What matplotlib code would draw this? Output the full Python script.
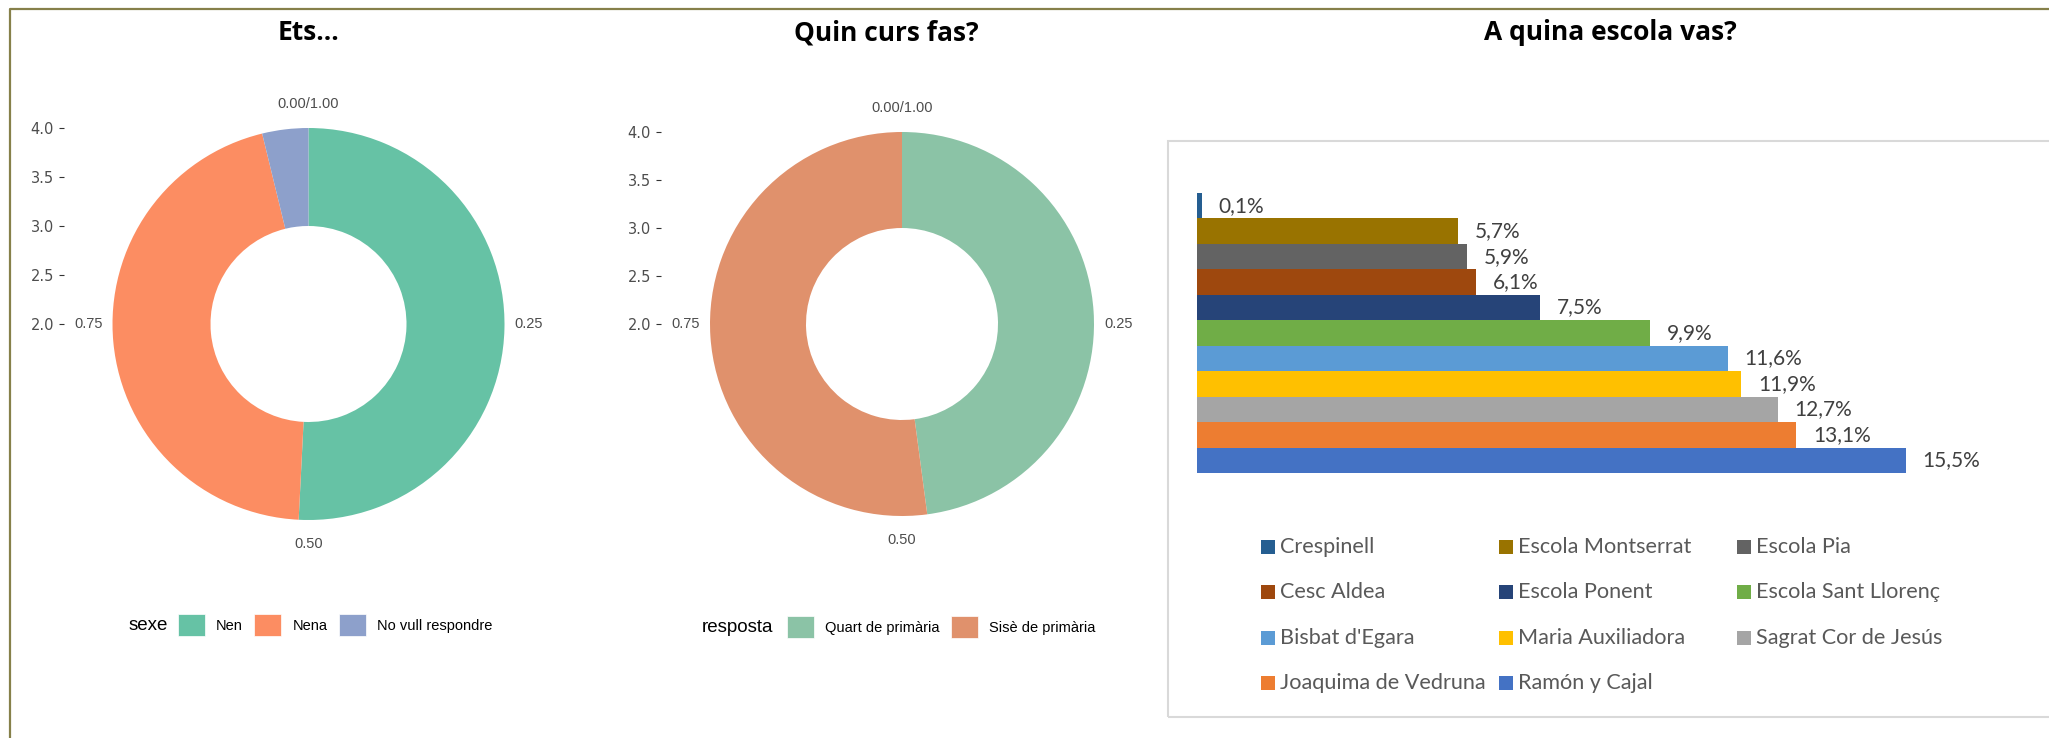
import numpy as np
import matplotlib
matplotlib.use("Agg")
import matplotlib.pyplot as plt
from matplotlib.patches import Patch, Rectangle
from matplotlib.lines import Line2D

W, H = 2049, 738

# --- data ---
sexe_labels = ["Nen", "Nena", "No vull respondre"]
sexe_values = [0.508, 0.454, 0.038]
sexe_colors = ["#66C2A5", "#FC8D62", "#8DA0CB"]

curs_labels = ["Quart de primària", "Sisè de primària"]
curs_values = [0.479, 0.521]
curs_colors = ["#8BC3A6", "#E0916C"]

schools = ["Crespinell", "Escola Montserrat", "Escola Pia", "Cesc Aldea",
           "Escola Ponent", "Escola Sant Llorenç", "Bisbat d'Egara",
           "Maria Auxiliadora", "Sagrat Cor de Jesús", "Joaquima de Vedruna",
           "Ramón y Cajal"]
school_pct = [0.1, 5.7, 5.9, 6.1, 7.5, 9.9, 11.6, 11.9, 12.7, 13.1, 15.5]
school_colors = ["#255E91", "#997300", "#636363", "#9E480E", "#264478",
                 "#70AD47", "#5B9BD5", "#FFC000", "#A5A5A5", "#ED7D31",
                 "#4472C4"]

radial_ticks = [2.0, 2.5, 3.0, 3.5, 4.0]
theta_ticks = [0.0, 0.25, 0.5, 0.75]
theta_labels = ["0.00/1.00", "0.25", "0.50", "0.75"]

GG = "Liberation Sans"
XL = "Lato"


def fx(x):
    return x / W


def fy(y):
    return 1 - y / H


fig = plt.figure(figsize=(W / 100, H / 100), dpi=100)
fig.patch.set_facecolor("white")


def donut(cx, cy, r, tick_x, values, colors, labels, title_name, leg_x, leg_y, title_x):
    ax = fig.add_axes([fx(cx - r), fy(cy + r), 2 * r / W, 2 * r / H])
    ax.pie(values, colors=colors, startangle=90, counterclock=False,
           wedgeprops=dict(width=0.5, linewidth=0))
    ax.set_xlim(-1, 1)
    ax.set_ylim(-1, 1)
    # radial axis (ggplot style), drawn left of the ring
    ax.set_yticks([(v - 2) / 2 for v in radial_ticks])
    ax.set_yticklabels([f"{v:.1f}" for v in radial_ticks], family=GG)
    ax.spines["left"].set_position(("outward", (cx - r - tick_x) * 0.72))
    ax.tick_params(axis="y", length=3.6, width=0.8, color="#333333", pad=3.6,
                   labelsize=10.5, labelcolor="#4D4D4D")
    ax.set_xticks([])
    for f, lab in zip(theta_ticks, theta_labels):
        sx, sy = np.sin(2 * np.pi * f), np.cos(2 * np.pi * f)
        if abs(sx) > 0.5:
            d = 10 / r
            ha = "left" if sx > 0 else "right"
        else:
            d = 24 / r
            ha = "center"
        ax.text(sx * (1 + d), sy * (1 + d), lab, ha=ha, va="center",
                fontsize=10.5, color="#4D4D4D", family=GG, clip_on=False)
    handles = [Patch(facecolor=c, edgecolor="white", linewidth=0.5) for c in colors]
    fig.legend(handles, labels, loc="center left",
               bbox_to_anchor=(fx(leg_x), fy(leg_y)), ncol=len(labels),
               frameon=False, borderpad=0, borderaxespad=0,
               handlelength=1.85, handleheight=1.85, handletextpad=0.75,
               columnspacing=0.8, prop=dict(family=GG, size=10.5))
    fig.text(fx(title_x), fy(leg_y), title_name, ha="left", va="center",
             fontsize=13.5, color="black", family=GG)
    return ax


ax1 = donut(308.5, 324, 196, 64, sexe_values, sexe_colors, sexe_labels,
            "sexe", 178, 625, 129)
ax2 = donut(902, 324, 192, 661, curs_values, curs_colors, curs_labels,
            "resposta", 787, 627, 702)

# --- titles ---
for x, t in [(308, "Ets..."), (886, "Quin curs fas?"), (1610, "A quina escola vas?")]:
    fig.text(fx(x), fy(33), t, ha="center", va="center", fontsize=19,
             fontweight="bold", family="Open Sans", color="black")

# --- bar chart ---
bar_left, bar_top, bar_bottom = 1197, 193, 473
px_per_pct = 45.74
ax3 = fig.add_axes([fx(bar_left), fy(bar_bottom), 16 * px_per_pct / W,
                    (bar_bottom - bar_top) / H])
y = np.arange(len(schools))
bars = ax3.barh(y, school_pct, height=1.0, color=school_colors, linewidth=0)
ax3.set_xlim(0, 16)
ax3.set_ylim(len(schools) - 0.5, -0.5)
ax3.axis("off")
ax3.bar_label(bars, labels=[f"{v:.1f}%".replace(".", ",") for v in school_pct],
              padding=12, fontsize=15, color="#404040", family=XL)

# legend of bar chart, Excel style (row-major, equal columns)
col_x = [1261, 1499, 1737]
row_y0, row_dy = 547, 45.3
for i, (name, c) in enumerate(zip(schools, school_colors)):
    row, col = divmod(i, 3)
    x0 = col_x[col]
    yc = row_y0 + row * row_dy
    fig.add_artist(Rectangle((fx(x0), fy(yc + 7)), 14 / W, 14 / H,
                             transform=fig.transFigure, facecolor=c,
                             edgecolor="none"))
    fig.text(fx(x0 + 19), fy(yc), name, ha="left", va="center",
             fontsize=15.6, color="#595959", family=XL)

# panel box around the bar chart
fig.add_artist(Rectangle((fx(1168), fy(717)), (2100 - 1168) / W, (717 - 141) / H,
                         transform=fig.transFigure, fill=False,
                         edgecolor="#D9D9D9", linewidth=1.5))

# outer olive frame
fig.add_artist(Line2D([fx(10), fx(10), fx(2060)], [fy(760), fy(9), fy(9)],
                      transform=fig.transFigure, color="#86804A", linewidth=1.6))

fig.savefig("out.png", dpi=100)
